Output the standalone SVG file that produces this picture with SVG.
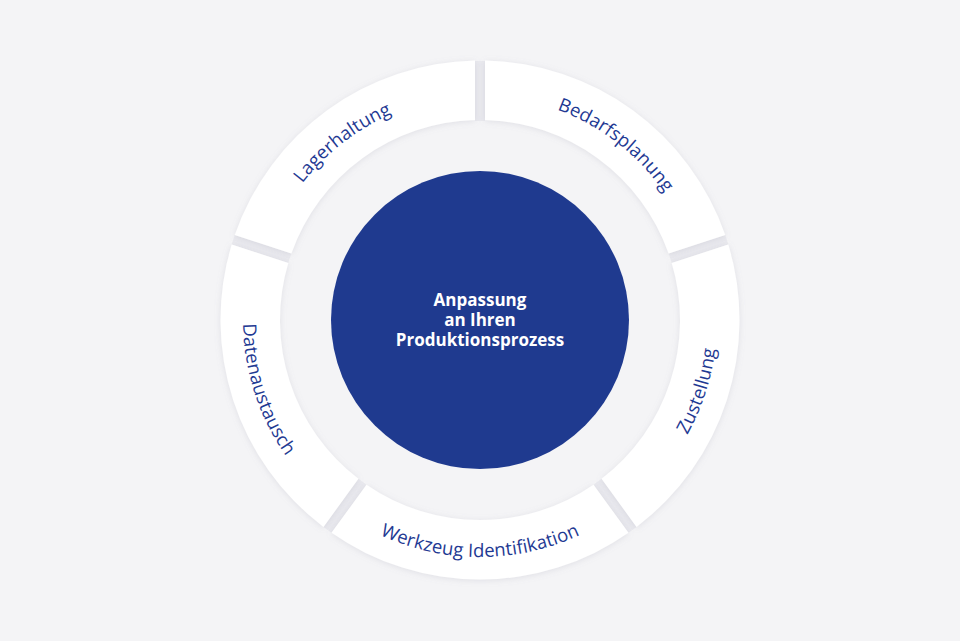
<svg xmlns="http://www.w3.org/2000/svg" width="960" height="641" viewBox="0 0 960 641">
<defs>
<filter id="soft" x="-20%" y="-20%" width="140%" height="140%">
<feDropShadow dx="0" dy="1" stdDeviation="3" flood-color="#8a8aa0" flood-opacity="0.2"/>
</filter>
<path id="pLager" d="M266.96,250.78 A224,224 0 0 1 480,96"/>
<path id="pBedarf" d="M480,96 A224,224 0 0 1 693.04,250.78"/>
<path id="pZust" d="M619.31,511.74 A237,237 0 0 0 705.40,246.76"/>
<path id="pWerk" d="M340.69,511.74 A237,237 0 0 0 619.31,511.74"/>
<path id="pDaten" d="M254.60,246.76 A237,237 0 0 0 340.69,511.74"/>
</defs>
<style>
.seg{fill:#ffffff;filter:url(#soft)}
.lbl{font-family:"Open Sans","Noto Sans","Liberation Sans",sans-serif;font-size:18.5px;font-weight:500;fill:#1f3a93;letter-spacing:0.1px}
.ctr{font-family:"Open Sans","Noto Sans","Liberation Sans",sans-serif;font-size:17px;font-weight:700;fill:#ffffff;text-anchor:middle}
.gap{stroke:#e9e9ee;stroke-width:10;fill:none}
</style>
<rect width="960" height="641" fill="#f4f4f6"/>
<g id="gaps">
<line class="gap" x1="480" y1="121" x2="480" y2="61"/>
<line class="gap" x1="670.21" y1="258.20" x2="726.8" y2="239.8"/>
<line class="gap" x1="597.56" y1="481.80" x2="632.5" y2="529.9"/>
<line class="gap" x1="362.44" y1="481.80" x2="327.5" y2="529.9"/>
<line class="gap" x1="289.79" y1="258.20" x2="233.2" y2="239.8"/>
</g>
<g id="lagerhaltung">
<path class="seg" d="M475,60.55 A259.5,259.5 0 0 0 234.79,235.07 L291.39,253.46 A200,200 0 0 1 475,120.06 Z"/>
<text class="lbl"><textPath href="#pLager" startOffset="47.5%" text-anchor="middle">Lagerhaltung</textPath></text>
</g>
<g id="bedarfsplanung">
<path class="seg" d="M725.21,235.07 A259.5,259.5 0 0 0 485,60.55 L485,120.06 A200,200 0 0 1 668.61,253.46 Z"/>
<text class="lbl"><textPath href="#pBedarf" startOffset="52.5%" text-anchor="middle">Bedarfsplanung</textPath></text>
</g>
<g id="zustellung">
<path class="seg" d="M636.55,526.96 A259.5,259.5 0 0 0 728.30,244.58 L671.70,262.97 A200,200 0 0 1 601.57,478.81 Z"/>
<text class="lbl"><textPath href="#pZust" startOffset="50%" text-anchor="middle">Zustellung</textPath></text>
</g>
<g id="werkzeug-identifikation">
<path class="seg" d="M331.54,532.84 A259.5,259.5 0 0 0 628.46,532.84 L593.48,484.69 A200,200 0 0 1 366.52,484.69 Z"/>
<text class="lbl"><textPath href="#pWerk" startOffset="50%" text-anchor="middle">Werkzeug Identifikation</textPath></text>
</g>
<g id="datenaustausch">
<path class="seg" d="M231.70,244.58 A259.5,259.5 0 0 0 323.45,526.96 L358.43,478.81 A200,200 0 0 1 288.30,262.97 Z"/>
<text class="lbl"><textPath href="#pDaten" startOffset="50%" text-anchor="middle">Datenaustausch</textPath></text>
</g>
<g id="center">
<circle cx="480" cy="320" r="149" fill="#1f3a8f"/>
<text class="ctr" x="480" y="306">Anpassung</text>
<text class="ctr" x="480" y="326">an Ihren</text>
<text class="ctr" x="480" y="346">Produktionsprozess</text>
</g>
</svg>
